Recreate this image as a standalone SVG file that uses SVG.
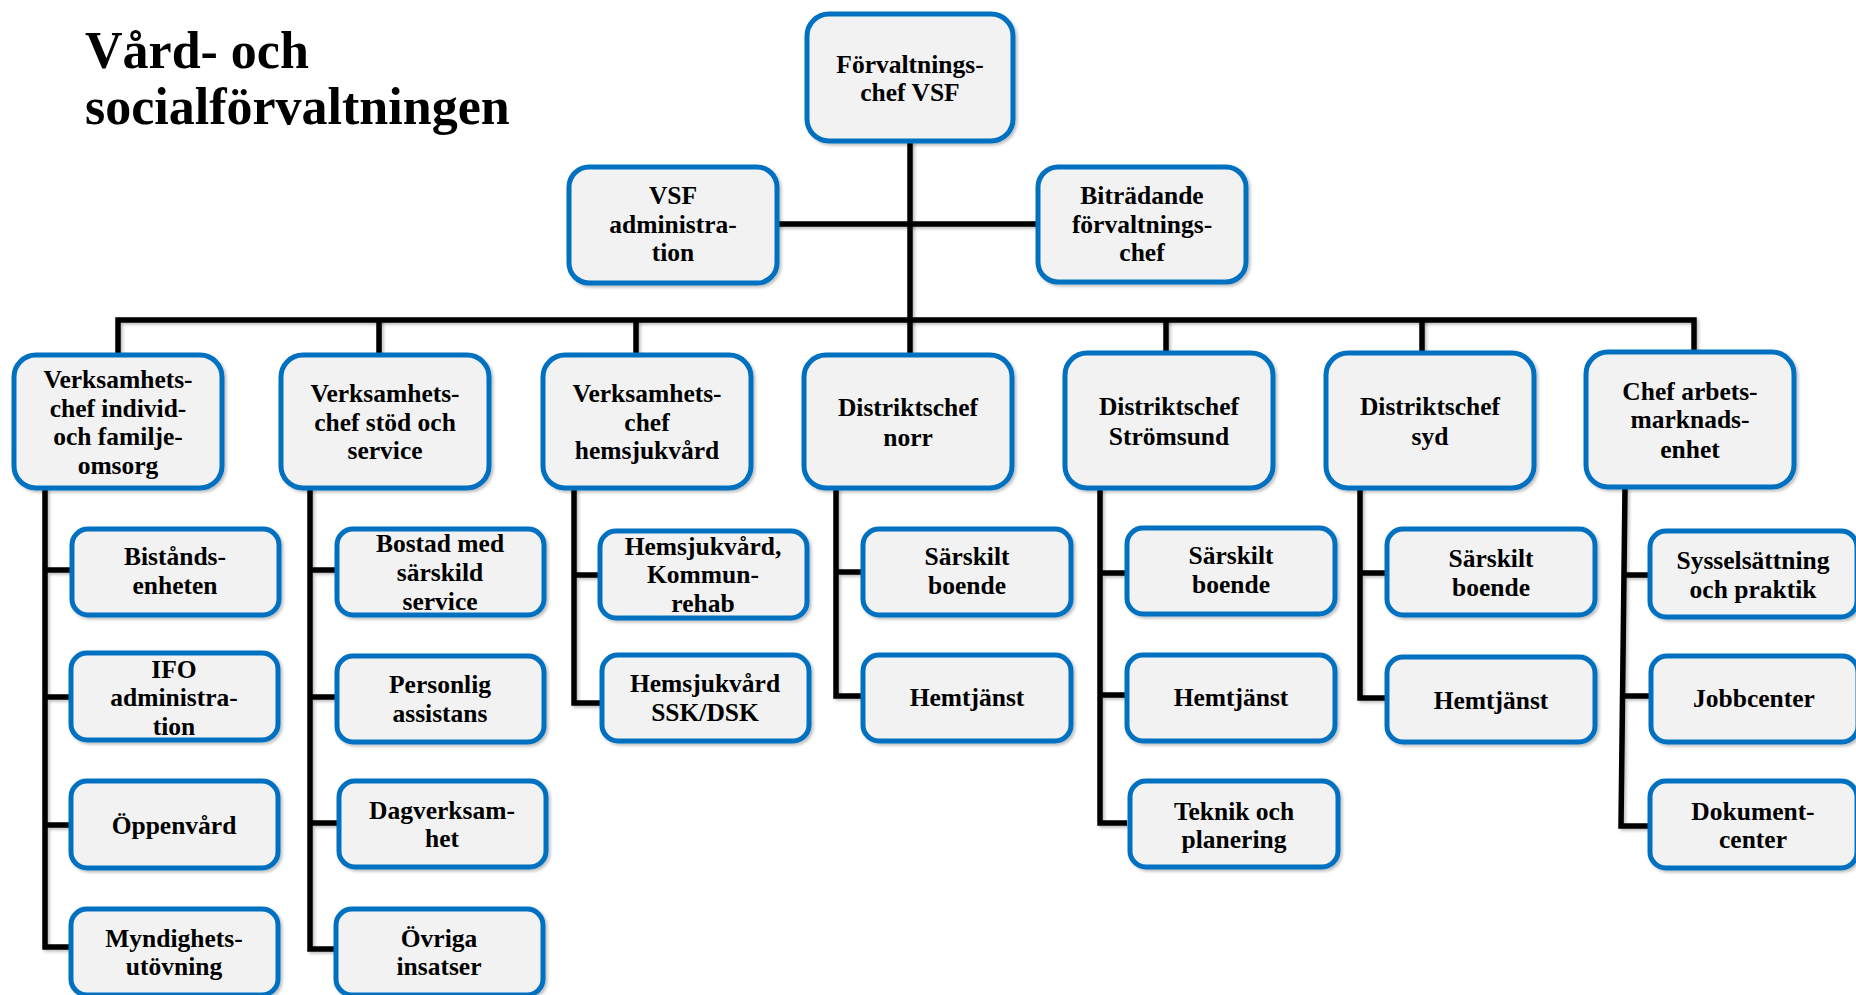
<svg xmlns="http://www.w3.org/2000/svg" width="1856" height="995" viewBox="0 0 1856 995">
<defs>
<filter id="sh" filterUnits="userSpaceOnUse" x="0" y="0" width="1856" height="995">
<feDropShadow dx="2" dy="2" stdDeviation="1.5" flood-color="#000" flood-opacity="0.25"/>
</filter>
<style>
.bx{fill:#f2f2f2;stroke:#0070c0;stroke-width:5;filter:url(#sh)}
.t{font-family:"Liberation Serif","Times New Roman",serif;font-weight:bold;font-size:25.5px;fill:#000;text-anchor:middle}
.title{font-family:"Liberation Serif","Times New Roman",serif;font-weight:bold;font-size:52px;fill:#000}
.ln{fill:none;stroke:#000;stroke-width:5.5;stroke-linejoin:miter;stroke-linecap:butt;filter:url(#sh)}
</style>
</defs>
<rect width="1856" height="995" fill="#fff"/>
<text class="title" x="85" y="68">Vård- och</text>
<text class="title" x="85" y="124">socialförvaltningen</text>

<g id="connectors">
<path class="ln" d="M910 141V355"/>
<path class="ln" d="M777 224H1038"/>
<path class="ln" d="M118 355V320H1694V352"/>
<path class="ln" d="M379 320V355M636 320V355M1166 320V353M1422 320V353"/>
<path class="ln" d="M45 488V947H71M45 570H71M45 697H71M45 825H71"/>
<path class="ln" d="M310 488V949H337M310 570H337M310 697H337M310 823H337"/>
<path class="ln" d="M574 488V703H600M574 575H600"/>
<path class="ln" d="M836 488V696H863M836 572H863"/>
<path class="ln" d="M1100 488V823H1127M1100 573H1127M1100 695H1127"/>
<path class="ln" d="M1360 488V698H1387M1360 573H1387"/>
<path class="ln" d="M1625 488L1621 826H1650M1624 575H1650M1622 696H1650"/>
</g>

<g id="n-forvaltningschef"><rect class="bx" x="807" y="14" width="206" height="127" rx="22"/>
<text class="t"><tspan x="910" y="73">Förvaltnings-</tspan><tspan x="910" y="101">chef VSF</tspan></text></g>
<g id="n-vsf-admin"><rect class="bx" x="569" y="167" width="208" height="116" rx="20"/>
<text class="t"><tspan x="673" y="204">VSF</tspan><tspan x="673" y="233">administra-</tspan><tspan x="673" y="261">tion</tspan></text></g>
<g id="n-bitradande"><rect class="bx" x="1038" y="167" width="208" height="115" rx="20"/>
<text class="t"><tspan x="1142" y="204">Biträdande</tspan><tspan x="1142" y="233">förvaltnings-</tspan><tspan x="1142" y="261">chef</tspan></text></g>

<g id="n-vc-ifo"><rect class="bx" x="14" y="355" width="208" height="133" rx="22"/>
<text class="t"><tspan x="118" y="388">Verksamhets-</tspan><tspan x="118" y="416.5">chef individ-</tspan><tspan x="118" y="445">och familje-</tspan><tspan x="118" y="474">omsorg</tspan></text></g>
<g id="n-vc-stod"><rect class="bx" x="281" y="355" width="208" height="133" rx="22"/>
<text class="t"><tspan x="385" y="402">Verksamhets-</tspan><tspan x="385" y="430.5">chef stöd och</tspan><tspan x="385" y="459">service</tspan></text></g>
<g id="n-vc-hsv"><rect class="bx" x="543" y="355" width="208" height="133" rx="22"/>
<text class="t"><tspan x="647" y="402">Verksamhets-</tspan><tspan x="647" y="430.5">chef</tspan><tspan x="647" y="459">hemsjukvård</tspan></text></g>
<g id="n-dc-norr"><rect class="bx" x="804" y="355" width="208" height="133" rx="22"/>
<text class="t"><tspan x="908" y="416">Distriktschef</tspan><tspan x="908" y="445.5">norr</tspan></text></g>
<g id="n-dc-stromsund"><rect class="bx" x="1065" y="353" width="208" height="135" rx="22"/>
<text class="t"><tspan x="1169" y="415">Distriktschef</tspan><tspan x="1169" y="444.5">Strömsund</tspan></text></g>
<g id="n-dc-syd"><rect class="bx" x="1326" y="353" width="208" height="135" rx="22"/>
<text class="t"><tspan x="1430" y="415">Distriktschef</tspan><tspan x="1430" y="444.5">syd</tspan></text></g>
<g id="n-chef-arbets"><rect class="bx" x="1586" y="352" width="208" height="135" rx="22"/>
<text class="t"><tspan x="1690" y="399.5">Chef arbets-</tspan><tspan x="1690" y="428">marknads-</tspan><tspan x="1690" y="457.5">enhet</tspan></text></g>

<g id="n-bistand"><rect class="bx" x="72" y="529" width="207" height="86" rx="16"/>
<text class="t"><tspan x="175" y="565">Bistånds-</tspan><tspan x="175" y="593.5">enheten</tspan></text></g>
<g id="n-ifo-admin"><rect class="bx" x="71" y="653" width="207" height="87" rx="16"/>
<text class="t"><tspan x="174" y="678">IFO</tspan><tspan x="174" y="706">administra-</tspan><tspan x="174" y="734.5">tion</tspan></text></g>
<g id="n-oppenvard"><rect class="bx" x="71" y="781" width="207" height="87" rx="16"/>
<text class="t"><tspan x="174" y="834">Öppenvård</tspan></text></g>
<g id="n-myndighet"><rect class="bx" x="71" y="909" width="207" height="86" rx="16"/>
<text class="t"><tspan x="174" y="946.5">Myndighets-</tspan><tspan x="174" y="975">utövning</tspan></text></g>

<g id="n-bostad"><rect class="bx" x="337" y="529" width="207" height="86" rx="16"/>
<text class="t"><tspan x="440" y="552">Bostad med</tspan><tspan x="440" y="580.5">särskild</tspan><tspan x="440" y="610">service</tspan></text></g>
<g id="n-personlig"><rect class="bx" x="337" y="656" width="207" height="86" rx="16"/>
<text class="t"><tspan x="440" y="693">Personlig</tspan><tspan x="440" y="721.5">assistans</tspan></text></g>
<g id="n-dagverksamhet"><rect class="bx" x="339" y="781" width="207" height="86" rx="16"/>
<text class="t"><tspan x="442" y="818.5">Dagverksam-</tspan><tspan x="442" y="847">het</tspan></text></g>
<g id="n-ovriga"><rect class="bx" x="336" y="909" width="207" height="86" rx="16"/>
<text class="t"><tspan x="439" y="946.5">Övriga</tspan><tspan x="439" y="975">insatser</tspan></text></g>

<g id="n-hsv-rehab"><rect class="bx" x="600" y="531" width="207" height="87" rx="16"/>
<text class="t"><tspan x="703" y="554.5">Hemsjukvård,</tspan><tspan x="703" y="583">Kommun-</tspan><tspan x="703" y="611.5">rehab</tspan></text></g>
<g id="n-hsv-ssk"><rect class="bx" x="602" y="655" width="207" height="86" rx="16"/>
<text class="t"><tspan x="705" y="692">Hemsjukvård</tspan><tspan x="705" y="720.5">SSK/DSK</tspan></text></g>

<g id="n-norr-sarskilt"><rect class="bx" x="863" y="529" width="208" height="86" rx="16"/>
<text class="t"><tspan x="967" y="565">Särskilt</tspan><tspan x="967" y="593.5">boende</tspan></text></g>
<g id="n-norr-hemtjanst"><rect class="bx" x="863" y="655" width="208" height="86" rx="16"/>
<text class="t"><tspan x="967" y="706">Hemtjänst</tspan></text></g>

<g id="n-strom-sarskilt"><rect class="bx" x="1127" y="528" width="208" height="86" rx="16"/>
<text class="t"><tspan x="1231" y="564">Särskilt</tspan><tspan x="1231" y="593">boende</tspan></text></g>
<g id="n-strom-hemtjanst"><rect class="bx" x="1127" y="655" width="208" height="86" rx="16"/>
<text class="t"><tspan x="1231" y="706">Hemtjänst</tspan></text></g>
<g id="n-strom-teknik"><rect class="bx" x="1130" y="781" width="208" height="86" rx="16"/>
<text class="t"><tspan x="1234" y="820">Teknik och</tspan><tspan x="1234" y="848">planering</tspan></text></g>

<g id="n-syd-sarskilt"><rect class="bx" x="1387" y="529" width="208" height="86" rx="16"/>
<text class="t"><tspan x="1491" y="566.5">Särskilt</tspan><tspan x="1491" y="596">boende</tspan></text></g>
<g id="n-syd-hemtjanst"><rect class="bx" x="1387" y="657" width="208" height="85" rx="16"/>
<text class="t"><tspan x="1491" y="708.5">Hemtjänst</tspan></text></g>

<g id="n-syssel"><rect class="bx" x="1650" y="531" width="207" height="86" rx="16"/>
<text class="t"><tspan x="1753" y="569">Sysselsättning</tspan><tspan x="1753" y="597.5">och praktik</tspan></text></g>
<g id="n-jobbcenter"><rect class="bx" x="1651" y="656" width="207" height="86" rx="16"/>
<text class="t"><tspan x="1754" y="707">Jobbcenter</tspan></text></g>
<g id="n-dokument"><rect class="bx" x="1650" y="781" width="207" height="87" rx="16"/>
<text class="t"><tspan x="1753" y="820">Dokument-</tspan><tspan x="1753" y="848">center</tspan></text></g>
</svg>
